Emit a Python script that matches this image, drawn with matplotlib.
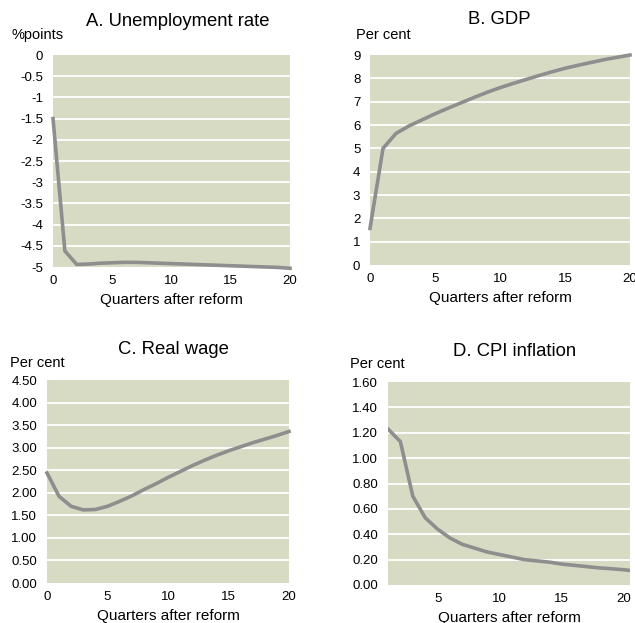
import matplotlib.pyplot as plt
import numpy as np

plt.rcParams['font.family'] = ['Liberation Sans', 'DejaVu Sans']

# quarters after reform
q = list(range(0, 21))
q_cpi = list(range(1, 22))

unemp = [-1.5, -4.62, -4.94, -4.93, -4.91, -4.90, -4.89, -4.89, -4.90, -4.91, -4.92,
         -4.93, -4.94, -4.95, -4.96, -4.97, -4.98, -4.99, -5.0, -5.01, -5.03]
gdp = [1.57, 5.0, 5.64, 5.96, 6.22, 6.48, 6.72, 6.95, 7.18, 7.4, 7.6,
       7.78, 7.95, 8.12, 8.28, 8.43, 8.56, 8.68, 8.8, 8.9, 9.0]
wage = [2.44, 1.92, 1.70, 1.62, 1.63, 1.70, 1.81, 1.93, 2.07, 2.2, 2.34,
        2.47, 2.6, 2.72, 2.83, 2.93, 3.02, 3.11, 3.19, 3.27, 3.36]
cpi = [1.23, 1.13, 0.70, 0.53, 0.44, 0.37, 0.32, 0.29, 0.26, 0.24, 0.22,
       0.20, 0.19, 0.18, 0.165, 0.155, 0.145, 0.135, 0.128, 0.12, 0.11]

bg = '#D8DBC3'
line_col = '#8E8E8E'

fig = plt.figure(figsize=(6.35, 6.23), dpi=100)


def style(ax, yticks, ylabels, xticks, xlim, ylim):
    ax.set_facecolor(bg)
    for s in ax.spines.values():
        s.set_visible(False)
    ax.set_xlim(*xlim)
    ax.set_ylim(*ylim)
    ax.set_yticks(yticks)
    ax.set_yticklabels(ylabels)
    ax.set_xticks(xticks)
    ax.tick_params(length=0, labelsize=9.5, colors='black')
    ax.tick_params(axis='y', pad=7)
    ax.tick_params(axis='x', pad=6)
    for y in yticks[1:-1]:
        ax.axhline(y, color='white', lw=1.3, zorder=1)
    ax.set_xlabel('Quarters after reform', fontsize=11, labelpad=4)


# A. Unemployment rate
axA = fig.add_axes([0.0835, 0.5714, 0.3732, 0.3403])
axA.plot(q, unemp, color=line_col, lw=2.6, zorder=3, clip_on=False)
ya = [0, -0.5, -1, -1.5, -2, -2.5, -3, -3.5, -4, -4.5, -5]
style(axA, ya, ['0', '-0.5', '-1', '-1.5', '-2', '-2.5', '-3', '-3.5', '-4', '-4.5', '-5'],
      [0, 5, 10, 15, 20], (0, 20), (-5, 0))
fig.text(178 / 635, 1 - 22 / 623, 'A. Unemployment rate', fontsize=13.3, ha='center', va='center')
fig.text(12 / 635, 1 - 35 / 623, '%points', fontsize=10.5, ha='left', va='center')

# B. GDP
axB = fig.add_axes([0.5827, 0.5746, 0.4094, 0.3371])
axB.plot(q, gdp, color=line_col, lw=2.6, zorder=3, clip_on=False)
yb = list(range(0, 10))
style(axB, yb, [str(v) for v in yb], [0, 5, 10, 15, 20], (0, 20), (0, 9))
fig.text(499 / 635, 1 - 20 / 623, 'B. GDP', fontsize=13.3, ha='center', va='center')
fig.text(356 / 635, 1 - 35 / 623, 'Per cent', fontsize=10.5, ha='left', va='center')

# C. Real wage
axC = fig.add_axes([0.074, 0.0642, 0.3811, 0.3258])
axC.plot(q, wage, color=line_col, lw=2.6, zorder=3, clip_on=False)
yc = [0, 0.5, 1, 1.5, 2, 2.5, 3, 3.5, 4, 4.5]
style(axC, yc, ['%.2f' % v for v in yc], [0, 5, 10, 15, 20], (0, 20), (0, 4.5))
fig.text(173 / 635, 1 - 350 / 623, 'C. Real wage', fontsize=13.3, ha='center', va='center')
fig.text(10 / 635, 1 - 363 / 623, 'Per cent', fontsize=10.5, ha='left', va='center')

# D. CPI inflation
axD = fig.add_axes([0.611, 0.0610, 0.3811, 0.3258])
axD.plot(q_cpi, cpi, color=line_col, lw=2.6, zorder=3)
yd = [0, 0.2, 0.4, 0.6, 0.8, 1.0, 1.2, 1.4, 1.6]
style(axD, yd, ['%.2f' % v for v in yd], [5, 10, 15, 20], (1, 20.5), (0, 1.6))
fig.text(515 / 635, 1 - 352 / 623, 'D. CPI inflation', fontsize=13.3, ha='center', va='center')
fig.text(350 / 635, 1 - 364 / 623, 'Per cent', fontsize=10.5, ha='left', va='center')

fig.savefig('out.png', dpi=100)
